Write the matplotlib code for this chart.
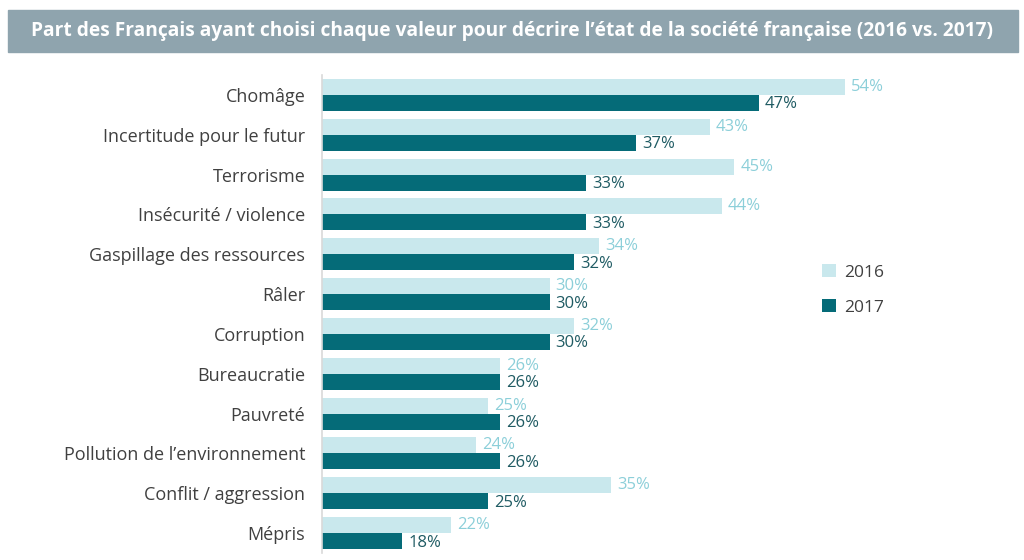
import matplotlib
matplotlib.use("Agg")
import matplotlib.pyplot as plt
import numpy as np

# Values
categories = ["Chomâge", "Incertitude pour le futur", "Terrorisme", "Insécurité / violence",
              "Gaspillage des ressources", "Râler", "Corruption", "Bureaucratie", "Pauvreté",
              "Pollution de l\u2019environnement", "Conflit / aggression", "Mépris"]
values2016 = [54, 43, 45, 44, 34, 30, 32, 26, 25, 24, 35, 22]
values2017 = [47, 37, 33, 33, 32, 30, 30, 26, 26, 26, 25, 18]
seriesNames = ["2016", "2017"]
title = "Part des Français ayant choisi chaque valeur pour décrire l\u2019état de la société française (2016 vs. 2017)"

light = "#c9e8ed"
dark = "#056b78"
lightText = "#8ccfd9"
darkText = "#1f5b63"

plt.rcParams["font.family"] = ["Open Sans", "DejaVu Sans"]

fig = plt.figure(figsize=(10.24, 5.6), dpi=100)

# Title banner
fig.patches.append(plt.Rectangle((8 / 1024, 1 - 52 / 560), 1010 / 1024, 42 / 560,
                                 transform=fig.transFigure, color="#8fa4ae", zorder=0))
fig.text(0.5, 1 - 31 / 560, title, ha="center", va="center", color="white",
         fontsize=13.8, fontweight="bold", fontstretch="condensed")

# the original chart's value axis does not start at zero
ax = fig.add_axes([322 / 1024, 1 - 553 / 560, 700 / 1024, 478 / 560])
y = np.arange(len(categories))
h = 0.4
ax.barh(y - h / 2, values2016, height=h, color=light, label=seriesNames[0])
ax.barh(y + h / 2, values2017, height=h, color=dark, label=seriesNames[1])

for i in range(len(categories)):
    ax.text(values2016[i] + 0.5, y[i] - h / 2, f"{values2016[i]}%", va="center",
            ha="left", color=lightText, fontsize=12)
    ax.text(values2017[i] + 0.5, y[i] + h / 2 + 0.04, f"{values2017[i]}%", va="center",
            ha="left", color=darkText, fontsize=12)

ax.set_xlim(11.5, 68.4)
ax.set_ylim(len(categories) - 0.5, -0.5)
ax.set_yticks(y)
ax.set_yticklabels(categories, fontsize=13, color="#404040")
ax.tick_params(axis="y", length=0, pad=12)
ax.set_xticks([])
for side in ["top", "right", "bottom"]:
    ax.spines[side].set_visible(False)
ax.spines["left"].set_color("#d9d9d9")
ax.spines["left"].set_linewidth(1.2)

leg = ax.legend(loc="upper left", bbox_to_anchor=(0.692, 0.637), frameon=False,
                fontsize=12.5, handlelength=0.8, handleheight=0.8, labelspacing=1.05,
                handletextpad=0.5)
for t in leg.get_texts():
    t.set_color("#404040")

fig.savefig("out.png", dpi=100)
